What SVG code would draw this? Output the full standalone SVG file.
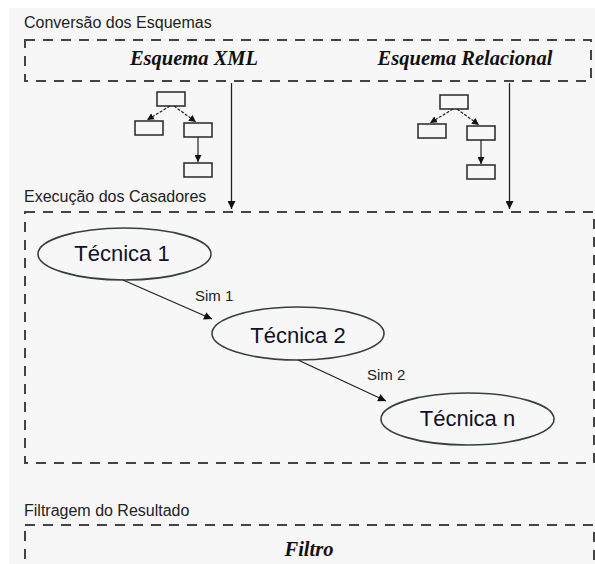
<svg xmlns="http://www.w3.org/2000/svg" width="595" height="564" viewBox="0 0 595 564">
<style>
.lbl{font-family:"Liberation Sans",Arial,sans-serif;font-size:16px;fill:#222}
.sim{font-family:"Liberation Sans",Arial,sans-serif;font-size:15px;fill:#222}
.tec{font-family:"Liberation Sans",Arial,sans-serif;font-size:22px;fill:#101028;text-anchor:middle}
.ttl{font-family:"Liberation Serif","Times New Roman",serif;font-size:20.5px;font-weight:bold;font-style:italic;fill:#111;text-anchor:middle}
.box{fill:none;stroke:#444;stroke-width:2;stroke-dasharray:10 8}
.ell{fill:none;stroke:#34433a;stroke-width:1.6}
.tb{fill:#f7f7f7;stroke:#333;stroke-width:1.6}
.con{fill:none;stroke:#222;stroke-width:1.3}
.tcon{fill:none;stroke:#222;stroke-width:1.2}
</style>
<defs>
<marker id="ah" viewBox="0 0 10 10" refX="10" refY="5" markerWidth="8" markerHeight="8" markerUnits="userSpaceOnUse" orient="auto">
<path d="M0,0 L10,5 L0,10 z" fill="#111"/>
</marker>
<marker id="sh" viewBox="0 0 10 10" refX="10" refY="5" markerWidth="7" markerHeight="7" markerUnits="userSpaceOnUse" orient="auto">
<path d="M0,0 L10,5 L0,10 z" fill="#111"/>
</marker>
</defs>
<rect x="0" y="0" width="595" height="564" fill="#ffffff"/>
<rect x="9" y="8" width="586" height="556" fill="#f7f7f7"/>

<g id="conversao">
<text class="lbl" x="24" y="28">Conversão dos Esquemas</text>
<rect class="box" x="25" y="40" width="566" height="41"/>
<text class="ttl" x="194" y="65">Esquema XML</text>
<text class="ttl" x="465" y="65">Esquema Relacional</text>
</g>

<g id="arvore-xml">
<rect class="tb" x="157" y="92" width="28" height="14"/>
<rect class="tb" x="135" y="121" width="28" height="14"/>
<rect class="tb" x="184" y="123" width="28" height="14"/>
<rect class="tb" x="184" y="163" width="28" height="14"/>
<line class="tcon" x1="170" y1="106" x2="147" y2="120" stroke-dasharray="3 1.5" marker-end="url(#sh)"/>
<line class="tcon" x1="174" y1="106" x2="196" y2="122" stroke-dasharray="3 1.5" marker-end="url(#sh)"/>
<line class="tcon" x1="198" y1="137" x2="198" y2="162" marker-end="url(#sh)"/>
</g>

<g id="arvore-relacional">
<rect class="tb" x="440" y="95" width="28" height="14"/>
<rect class="tb" x="418" y="124" width="28" height="14"/>
<rect class="tb" x="467" y="126" width="28" height="14"/>
<rect class="tb" x="467" y="165" width="28" height="14"/>
<line class="tcon" x1="453" y1="109" x2="430" y2="123" stroke-dasharray="3 1.5" marker-end="url(#sh)"/>
<line class="tcon" x1="457" y1="109" x2="479" y2="125" stroke-dasharray="3 1.5" marker-end="url(#sh)"/>
<line class="tcon" x1="481" y1="140" x2="481" y2="164" marker-end="url(#sh)"/>
</g>

<g id="execucao">
<text class="lbl" x="24" y="202">Execução dos Casadores</text>
<rect class="box" x="25" y="212" width="569" height="251"/>
</g>

<g id="tecnica1">
<ellipse class="ell" cx="124.5" cy="254" rx="86.5" ry="26"/>
<text class="tec" x="122" y="261">Técnica 1</text>
</g>
<g id="tecnica2">
<ellipse class="ell" cx="298" cy="333.5" rx="86" ry="26.5"/>
<text class="tec" x="298" y="343">Técnica 2</text>
</g>
<g id="tecnican">
<ellipse class="ell" cx="467.5" cy="419" rx="86.5" ry="26"/>
<text class="tec" x="467.5" y="426">Técnica n</text>
</g>

<g id="filtragem">
<text class="lbl" x="24" y="516">Filtragem do Resultado</text>
<rect class="box" x="25" y="525" width="569" height="60"/>
<text class="ttl" x="309" y="556">Filtro</text>
</g>

<g id="connectors">
<line class="con" x1="231.5" y1="83" x2="231.5" y2="209" marker-end="url(#ah)"/>
<line class="con" x1="509.5" y1="83" x2="509.5" y2="209" marker-end="url(#ah)"/>
<line class="con" x1="123" y1="280" x2="212" y2="319" marker-end="url(#ah)"/>
<text class="sim" x="195" y="301">Sim 1</text>
<line class="con" x1="298" y1="360" x2="386" y2="401" marker-end="url(#ah)"/>
<text class="sim" x="367" y="380">Sim 2</text>
</g>
</svg>
